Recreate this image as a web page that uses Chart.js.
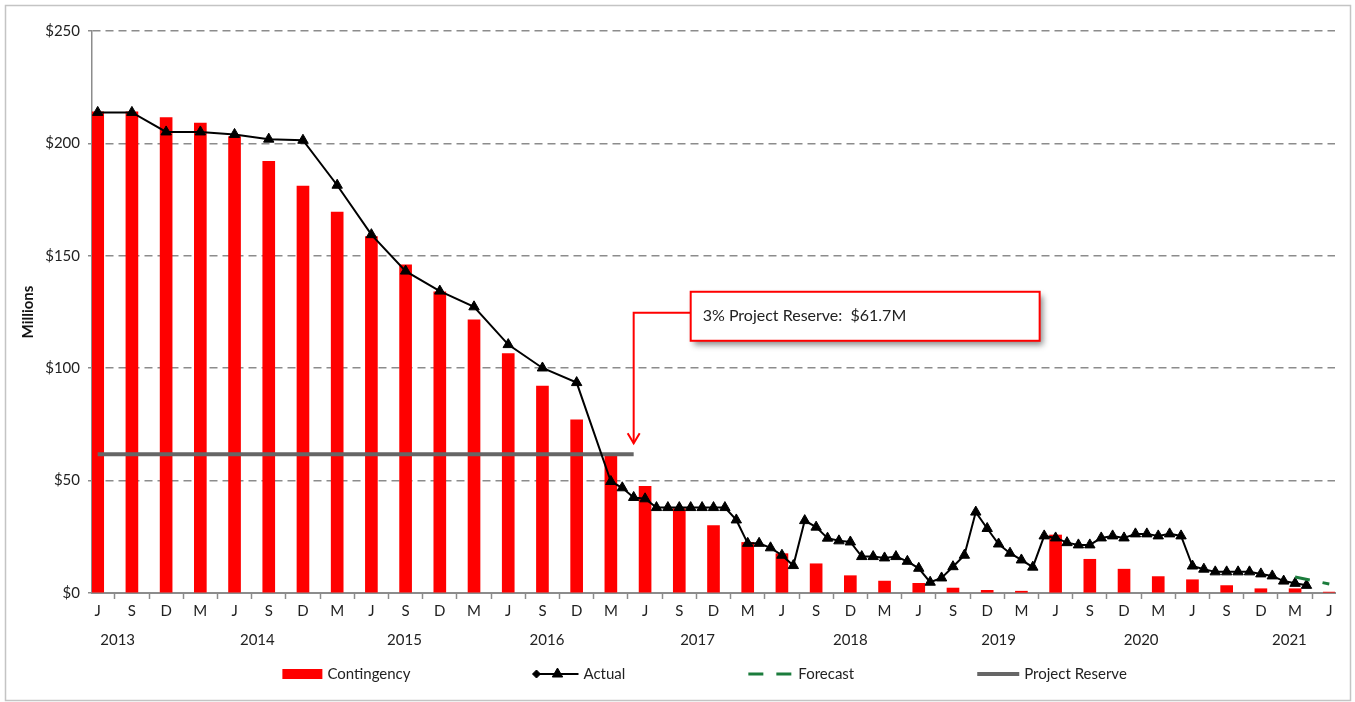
<!DOCTYPE html>
<html>
<head>
<meta charset="utf-8">
<script src="https://cdn.jsdelivr.net/npm/chart.js@4.4.1/dist/chart.umd.min.js"></script>
<style>
  html, body { margin: 0; padding: 0; background: #fff; }
  #wrap { position: relative; width: 1355px; height: 702px; }
</style>
</head>
<body>
<div id="wrap"><canvas id="contingency-chart" width="1355" height="702"></canvas></div>
<script>
// x values are months counted from June 2013 (0) to June 2022 (108)
const tickLetters = [
    'J', 'S', 'D', 'M', 'J', 'S', 'D', 'M', 'J', 'S', 'D', 'M', 'J', 'S', 'D', 'M',
    'J', 'S', 'D', 'M', 'J', 'S', 'D', 'M', 'J', 'S', 'D', 'M', 'J', 'S', 'D', 'M',
    'J', 'S', 'D', 'M', 'J'
];
const yearLabels = ['2013', '2014', '2015', '2016', '2017', '2018', '2019', '2020', '2021'];

// one bar per quarter tick
const contingency = [
    214, 214, 211.5, 209, 203, 192, 181, 169.5, 158.5, 146, 134, 121.5, 106.5, 92, 77, 61,
    47.5, 37.5, 30, 22.5, 17.5, 13, 7.7, 5.3, 4.3, 2.2, 1.2, 0.8, 25.8, 15, 10.6, 7.3,
    5.9, 3.3, 1.9, 1.9, 0.4
];

const actualMonths = [
    0, 3, 6, 9, 12, 15, 18, 21, 24, 27, 30, 33, 36, 39, 42,
    45, 46, 47, 48, 49, 50, 51, 52, 53, 54, 55, 56, 57, 58, 59, 60, 61, 62, 63, 64, 65,
    66, 67, 68, 69, 70, 71, 72, 73, 74, 75, 76, 77, 78, 79, 80, 81, 82, 83, 84, 85, 86,
    87, 88, 89, 90, 91, 92, 93, 94, 95, 96, 97, 98, 99, 100, 101, 102, 103, 104, 105, 106
];
const actualValues = [
    213.8, 213.8, 205.1, 205.1, 204.0, 201.9, 201.4, 181.4, 159.4, 143.2, 134.3, 127.3, 110.5, 100.1, 93.6,
    49.6, 46.8, 42.5, 41.9, 38.0, 38.0, 38.0, 38.0, 38.0, 38.0, 38.0,
    32.5, 22.1, 22.1, 20.1, 16.8, 12.2,
    32.2, 29.3, 24.4, 23.2, 22.7,
    16.2, 16.2, 15.6, 16.2, 14.1, 11.0, 4.8, 6.7, 11.7, 16.8,
    36.0, 28.7, 21.8, 17.7, 14.7, 11.5,
    25.4, 24.5, 22.4, 21.4, 21.4, 24.5, 25.4, 24.5, 26.3, 26.3, 25.4, 26.3, 25.4,
    12.0, 10.6, 9.4, 9.4, 9.4, 9.4, 8.5, 7.6, 5.3, 4.3, 3.4
];

const forecastMonths = [105, 108];
const forecastValues = [7.1, 4.0];

const reserveMonths = [0, 47];
const reserveValue = 61.7;

// layout (data units): where the year captions and the callout sit
const yearTickAt = [1.75, 14, 26.9, 39.4, 52.6, 66, 79, 91.5, 104.5];
const callout = { boxFrom: 52.0, boxTo: 82.6, boxTop: 134, boxBottom: 112.2, elbow: 124.7, tipMonth: 47, tipValue: 66.6 };

const FONT = 'Lato';
const TEXT = '#222';
const AXIS = '#8c8c8c';

Chart.defaults.font.family = FONT;
Chart.defaults.color = TEXT;

const chartFrame = {
    id: 'chartFrame',
    beforeDraw(chart) {
        const ctx = chart.ctx;
        ctx.save();
        ctx.fillStyle = '#fff';
        ctx.fillRect(0, 0, chart.width, chart.height);
        ctx.strokeStyle = '#c4c4c4';
        ctx.lineWidth = 1.5;
        ctx.strokeRect(5.5, 5.5, chart.width - 10, chart.height - 7);
        ctx.restore();
    }
};

const reserveCallout = {
    id: 'reserveCallout',
    afterDatasetsDraw(chart) {
        const { ctx, scales: { x, y } } = chart;
        const left = x.getPixelForValue(callout.boxFrom);
        const right = x.getPixelForValue(callout.boxTo);
        const top = y.getPixelForValue(callout.boxTop);
        const bottom = y.getPixelForValue(callout.boxBottom);
        const elbowY = y.getPixelForValue(callout.elbow);
        const tipX = x.getPixelForValue(callout.tipMonth);
        const tipY = y.getPixelForValue(callout.tipValue);

        ctx.save();
        ctx.strokeStyle = '#ff0000';
        ctx.lineWidth = 2;
        ctx.beginPath();
        ctx.moveTo(left, elbowY);
        ctx.lineTo(tipX, elbowY);
        ctx.lineTo(tipX, tipY);
        ctx.stroke();
        ctx.beginPath();
        ctx.moveTo(tipX - 6, tipY - 10);
        ctx.lineTo(tipX, tipY);
        ctx.lineTo(tipX + 6, tipY - 10);
        ctx.stroke();

        ctx.shadowColor = 'rgba(0,0,0,0.45)';
        ctx.shadowBlur = 6;
        ctx.shadowOffsetX = 3;
        ctx.shadowOffsetY = 4;
        ctx.fillStyle = '#fff';
        ctx.fillRect(left, top, right - left, bottom - top);
        ctx.shadowColor = 'transparent';
        ctx.strokeRect(left, top, right - left, bottom - top);

        ctx.fillStyle = TEXT;
        ctx.font = '16px ' + FONT;
        ctx.textBaseline = 'middle';
        ctx.fillText(`3% Project Reserve:  $${reserveValue}M`, left + 12, (top + bottom) / 2);
        ctx.restore();
    }
};

// legend drawn by hand so the wide spacing and the Actual marker pair match
const legendSymbolWidth = { 'Contingency': 40, 'Actual': 45, 'Forecast': 45, 'Project Reserve': 42 };
const bottomLegend = {
    id: 'bottomLegend',
    afterDraw(chart) {
        const ctx = chart.ctx;
        const yMid = chart.scales.x2.bottom + 17;
        const gap = 123;
        ctx.save();
        ctx.font = '15px ' + FONT;
        const items = chart.data.datasets.map(ds => ({
            ds,
            w: legendSymbolWidth[ds.label],
            tw: ctx.measureText(ds.label).width
        }));
        const total = items.reduce((s, it) => s + it.w + 5 + it.tw, 0) + gap * (items.length - 1);
        let xPos = chart.width * 0.52 - total / 2;

        items.forEach(({ ds, w, tw }) => {
            ctx.save();
            if (ds.type === 'bar') {
                ctx.fillStyle = ds.backgroundColor;
                ctx.fillRect(xPos, yMid - 5, w, 10);
            } else {
                ctx.strokeStyle = ds.borderColor;
                ctx.lineWidth = ds.borderWidth;
                ctx.setLineDash(ds.borderDash || []);
                ctx.beginPath();
                ctx.moveTo(xPos, yMid);
                ctx.lineTo(xPos + w, yMid);
                ctx.stroke();
                if (ds.pointRadius) {
                    ctx.setLineDash([]);
                    ctx.fillStyle = ds.pointBackgroundColor;
                    ctx.lineWidth = 1;
                    Chart.helpers.drawPoint(ctx, { pointStyle: 'rectRot', radius: 4, rotation: 0, borderWidth: 1 }, xPos + 3, yMid);
                    Chart.helpers.drawPoint(ctx, { pointStyle: 'triangle', radius: 6, rotation: 0, borderWidth: 1 }, xPos + 24, yMid);
                }
            }
            ctx.restore();
            ctx.fillStyle = TEXT;
            ctx.textBaseline = 'middle';
            ctx.fillText(ds.label, xPos + w + 5, yMid);
            xPos += w + 5 + tw + gap;
        });
        ctx.restore();
    }
};

const ctx = document.getElementById('contingency-chart');

new Chart(ctx, {
    type: 'bar',
    data: {
        datasets: [
            {
                type: 'bar',
                label: 'Contingency',
                data: contingency.map((v, i) => ({ x: i * 3, y: v })),
                backgroundColor: '#ff0000',
                borderWidth: 0,
                barThickness: 12,
                order: 4
            },
            {
                type: 'line',
                label: 'Actual',
                data: actualMonths.map((m, i) => ({ x: m, y: actualValues[i] })),
                borderColor: '#000',
                borderWidth: 2,
                pointStyle: 'triangle',
                pointRadius: 6,
                pointBackgroundColor: '#000',
                pointBorderColor: '#000',
                pointBorderWidth: 1,
                tension: 0,
                fill: false,
                order: 1
            },
            {
                type: 'line',
                label: 'Forecast',
                data: forecastMonths.map((m, i) => ({ x: m, y: forecastValues[i] })),
                borderColor: '#1b7c3c',
                borderWidth: 3,
                borderDash: [15, 13],
                pointRadius: 0,
                tension: 0,
                fill: false,
                order: 0
            },
            {
                type: 'line',
                label: 'Project Reserve',
                data: reserveMonths.map(m => ({ x: m, y: reserveValue })),
                borderColor: '#666666',
                borderWidth: 4,
                pointRadius: 0,
                tension: 0,
                fill: false,
                order: 2
            }
        ]
    },
    options: {
        responsive: false,
        animation: false,
        devicePixelRatio: 1,
        layout: { padding: { left: 8, right: 20, top: 31, bottom: 45 } },
        scales: {
            x: {
                type: 'linear',
                position: 'bottom',
                min: -0.5,
                max: 108.5,
                offset: false,
                weight: 0,
                afterBuildTicks: (scale) => {
                    scale.ticks = tickLetters.map((_, i) => ({ value: i * 3 }));
                },
                ticks: {
                    autoSkip: false,
                    maxRotation: 0,
                    padding: 3,
                    color: TEXT,
                    font: { size: 15 },
                    callback: (value, index) => tickLetters[index]
                },
                grid: {
                    drawOnChartArea: false,
                    drawTicks: true,
                    tickLength: 6,
                    tickColor: AXIS,
                    tickWidth: 1.5
                },
                border: { color: AXIS, width: 2 }
            },
            x2: {
                type: 'linear',
                position: 'bottom',
                min: -0.5,
                max: 108.5,
                offset: false,
                weight: 1,
                afterBuildTicks: (scale) => {
                    scale.ticks = yearTickAt.map(v => ({ value: v }));
                },
                ticks: {
                    autoSkip: false,
                    maxRotation: 0,
                    padding: 8,
                    color: TEXT,
                    font: { size: 15 },
                    callback: (value, index) => yearLabels[index]
                },
                grid: { display: false, drawTicks: false },
                border: { display: false }
            },
            y: {
                min: 0,
                max: 250,
                afterFit: (scale) => { scale.width = 84; },
                ticks: {
                    stepSize: 50,
                    padding: 8,
                    color: TEXT,
                    font: { size: 15 },
                    callback: (value) => '$' + value
                },
                grid: {
                    color: AXIS,
                    lineWidth: 1.5,
                    tickLength: 4,
                    tickColor: AXIS,
                    tickBorderDash: []
                },
                border: { color: AXIS, width: 1.5, dash: [8, 5] },
                title: {
                    display: true,
                    text: 'Millions',
                    color: '#111',
                    font: { size: 15, weight: 'bold' },
                    padding: { top: 11, bottom: 0 }
                }
            }
        },
        plugins: {
            legend: { display: false },
            tooltip: { enabled: false }
        }
    },
    plugins: [chartFrame, reserveCallout, bottomLegend]
});
</script>
</body>
</html>
